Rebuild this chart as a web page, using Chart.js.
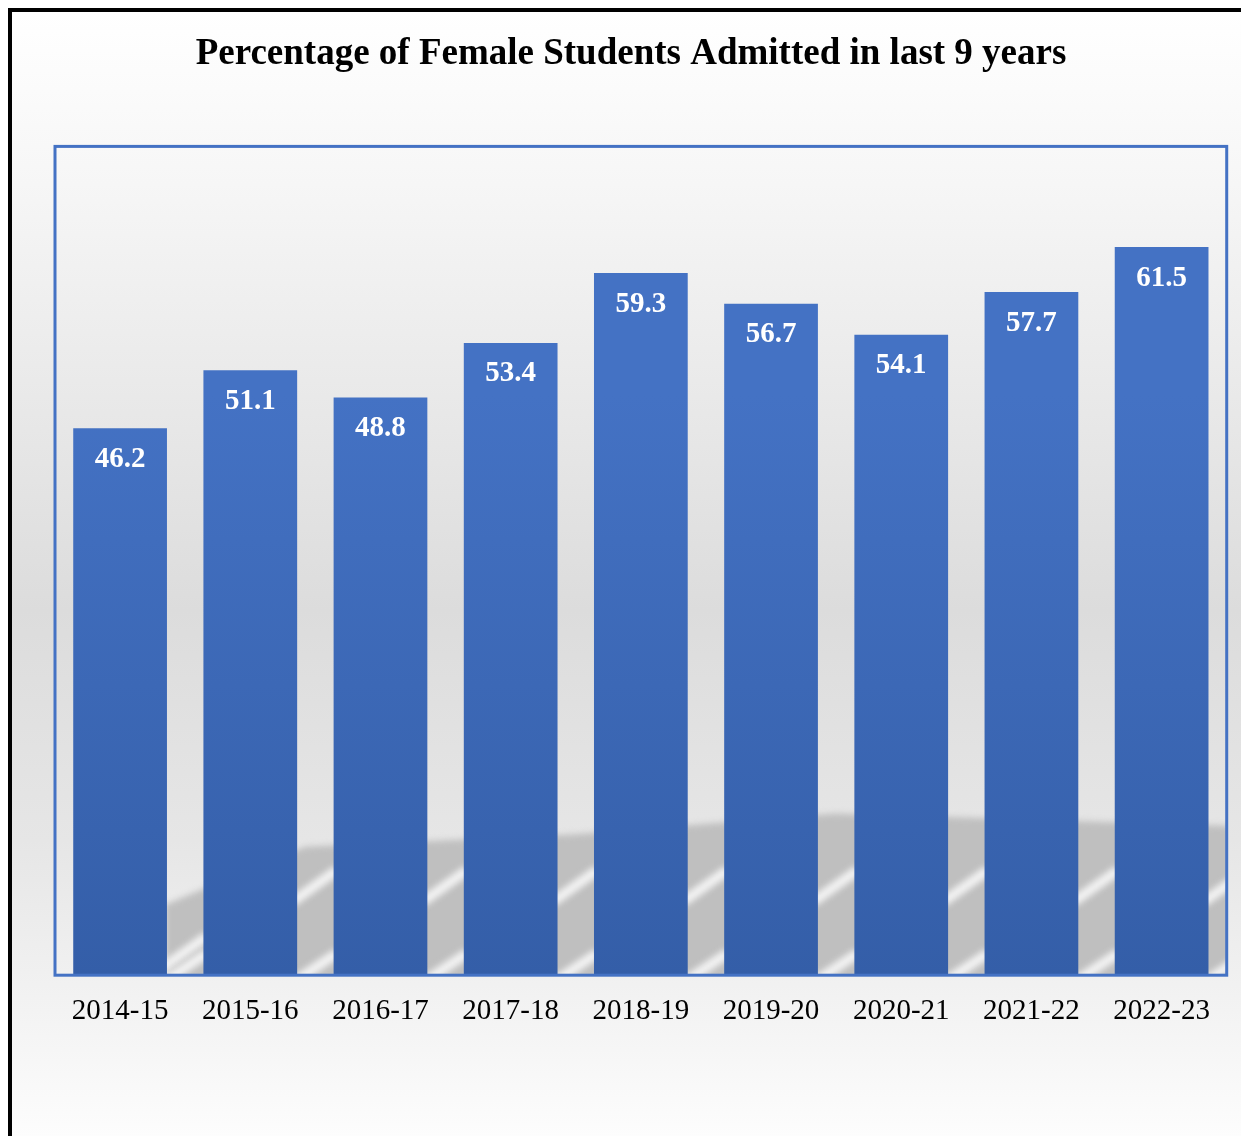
<!DOCTYPE html>
<html lang="en">
<head>
    <meta charset="UTF-8">
    <title>Percentage of Female Students Admitted</title>
    <style>
        html, body {
            margin: 0;
            padding: 0;
            background: #ffffff;
            overflow: hidden;
        }
        .frame {
            position: absolute;
            left: 8px;
            top: 8px;
            width: 1250px;
            height: 1150px;
            border: 4px solid #000;
            background: linear-gradient(to bottom, #ffffff 0%, #f6f6f6 15%, #dcdcdc 52%, #e6e6e6 72%, #f4f4f4 88%, #ffffff 100%);
        }
        .chart-box {
            position: absolute;
            left: 0;
            top: 0;
            width: 1217px;
            height: 1124px;
        }
    </style>
</head>
<body>
    <div class="frame">
        <div class="chart-box">
            <canvas id="barChart"></canvas>
        </div>
    </div>

    <script src="https://cdn.jsdelivr.net/npm/chart.js"></script>
    <script>
        const years = ['2014-15', '2015-16', '2016-17', '2017-18', '2018-19', '2019-20', '2020-21', '2021-22', '2022-23'];
        const femalePercent = [46.2, 51.1, 48.8, 53.4, 59.3, 56.7, 54.1, 57.7, 61.5];

        const serif = '"Liberation Serif", "Times New Roman", serif';

        // gray swoosh behind the bars + blue frame round the plot
        const plotDecor = {
            id: 'plotDecor',
            beforeDatasetsDraw(chart) {
                const { ctx, chartArea: a } = chart;
                const h = a.bottom - a.top;
                ctx.save();
                ctx.beginPath();
                ctx.rect(a.left, a.top, a.right - a.left, h);
                ctx.clip();
                ctx.filter = 'blur(3px)';
                // gray band
                ctx.fillStyle = '#bfbfbf';
                ctx.beginPath();
                ctx.moveTo(a.left + 110, a.bottom + 5);
                ctx.lineTo(a.left + 110, a.top + h * 0.915);
                ctx.lineTo(a.left + 250, a.top + h * 0.845);
                ctx.lineTo(a.left + 520, a.top + h * 0.83);
                ctx.lineTo(a.left + 780, a.top + h * 0.805);
                ctx.lineTo(a.right + 10, a.top + h * 0.82);
                ctx.lineTo(a.right + 10, a.bottom + 5);
                ctx.closePath();
                ctx.fill();
                // white diagonal streaks in each gap
                const bars = chart.getDatasetMeta(0).data;
                ctx.strokeStyle = 'rgba(245,245,245,0.95)';
                ctx.lineWidth = 10;
                bars.forEach((b, i) => {
                    const x0 = b.x + b.width / 2;
                    const x1 = x0 + 40;
                    const yMid = i === 0 ? a.bottom - 25 : a.top + h * 0.89;
                    ctx.beginPath();
                    ctx.moveTo(x0 - 5, yMid + 18);
                    ctx.lineTo(x1, yMid - 14);
                    ctx.stroke();
                    ctx.beginPath();
                    ctx.moveTo(x0 - 5, a.bottom + 8);
                    ctx.lineTo(x1, a.bottom - 22);
                    ctx.stroke();
                });
                ctx.restore();
            },
            afterDatasetsDraw(chart) {
                const { ctx, chartArea: a } = chart;
                ctx.save();
                ctx.strokeStyle = '#4472c4';
                ctx.lineWidth = 3;
                ctx.strokeRect(a.left, a.top, a.right - a.left, a.bottom - a.top);
                ctx.restore();
            }
        };

        // value labels inside top of bars
        const valueLabels = {
            id: 'valueLabels',
            afterDatasetsDraw(chart) {
                const { ctx } = chart;
                const meta = chart.getDatasetMeta(0);
                ctx.save();
                ctx.fillStyle = '#ffffff';
                ctx.font = 'bold 29px ' + serif;
                ctx.textAlign = 'center';
                ctx.textBaseline = 'middle';
                meta.data.forEach((bar, i) => {
                    ctx.fillText(femalePercent[i].toFixed(1), bar.x, bar.y + 31);
                });
                ctx.restore();
            }
        };

        const ctx = document.getElementById('barChart').getContext('2d');

        new Chart(ctx, {
            type: 'bar',
            data: {
                labels: years,
                datasets: [{
                    label: 'Female students (%)',
                    data: femalePercent,
                    backgroundColor: function(context) {
                        const area = context.chart.chartArea;
                        if (!area) return '#4472c4';
                        const g = context.chart.ctx.createLinearGradient(0, area.top, 0, area.bottom);
                        g.addColorStop(0, '#4472c4');
                        g.addColorStop(0.3, '#4472c4');
                        g.addColorStop(1, '#345ea8');
                        return g;
                    },
                    borderWidth: 0,
                    barPercentage: 0.72,
                    categoryPercentage: 1
                }]
            },
            options: {
                responsive: true,
                maintainAspectRatio: false,
                animation: false,
                layout: {
                    padding: { left: 22, right: 1, top: 0, bottom: 88 }
                },
                plugins: {
                    legend: { display: false },
                    tooltip: { enabled: false },
                    title: {
                        display: true,
                        text: 'Percentage of Female Students Admitted in last 9 years',
                        color: '#000000',
                        font: { family: serif, size: 37, weight: 'bold' },
                        padding: { top: 20, bottom: 70 }
                    }
                },
                scales: {
                    x: {
                        grid: { display: false, drawTicks: false },
                        border: { display: false },
                        ticks: {
                            color: '#000000',
                            padding: 19,
                            font: { family: serif, size: 29 }
                        }
                    },
                    y: {
                        min: 0,
                        max: 70,
                        grid: { display: false, drawTicks: false },
                        border: { display: false },
                        ticks: { display: false },
                        // empty strip left of the plot, keeps the title centred like the original
                        afterFit(axis) {
                            axis.width = 21;
                        }
                    }
                }
            },
            plugins: [plotDecor, valueLabels]
        });
    </script>
</body>
</html>
